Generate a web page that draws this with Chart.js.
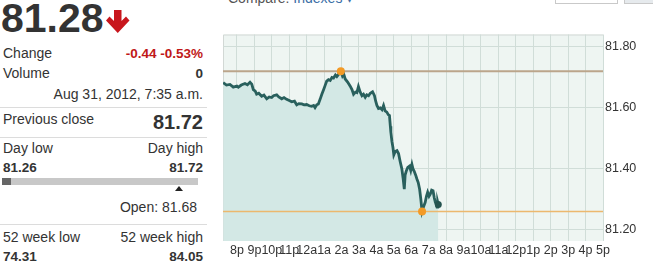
<!DOCTYPE html>
<html>
<head>
<meta charset="utf-8">
<script src="https://cdn.jsdelivr.net/npm/chart.js@4.4.1/dist/chart.umd.min.js"></script>
<style>
    body { margin: 0; width: 653px; height: 266px; overflow: hidden; background: #fff; position: relative;
           font-family: "Liberation Sans", Arial, sans-serif; color: #333; }
    .t { position: absolute; font-size: 14px; line-height: 14px; white-space: nowrap; }
    .l { left: 3px; }
    .r { right: 450px; text-align: right; }
    .b { font-weight: bold; font-size: 13.5px; }
    .sep { position: absolute; left: 0; width: 207px; height: 1px; background: #dcdcdc; }
    #chart-box { position: absolute; left: 215px; top: 25px; width: 438px; height: 241px; }
</style>
</head>
<body>
<div class="t" style="left:228px; top:-9px; color:#555;">Compare: <span style="color:#3a6ea5;">Indexes ▾</span></div>
<div style="position:absolute; left:555px; top:-20px; width:61px; height:22px; border:1px solid #c9c9c9; background:#fff;"></div>
<div style="position:absolute; left:624px; top:-20px; width:40px; height:22px; border:1px solid #c9c9c9; background:#e6eaed;"></div>

<div class="t" style="left:1px; top:-2px; font-size:41px; line-height:41px; font-weight:bold; color:#333;">81.28</div>
<svg style="position:absolute; left:106px; top:10px;" width="24" height="24" viewBox="0 0 24 24">
    <polygon points="8,0 15.5,0 15.5,11 20,6.5 23.5,10.5 11.75,23 0,10.5 3.5,6.5 8,11" fill="#c8161d"/>
</svg>

<div class="t l" style="top:46px;">Change</div>
<div class="t r b" style="top:46.5px; color:#c01818;">-0.44 -0.53%</div>
<div class="t l" style="top:66px;">Volume</div>
<div class="t r b" style="top:66.5px;">0</div>
<div class="t r" style="top:87px;">Aug 31, 2012, 7:35 a.m.</div>
<div class="sep" style="top:107px;"></div>

<div class="t l" style="top:112px;">Previous close</div>
<div class="t r" style="top:112px; font-size:20px; line-height:20px; font-weight:bold;">81.72</div>
<div class="sep" style="top:137px;"></div>

<div class="t l" style="top:141px;">Day low</div>
<div class="t r" style="top:141px;">Day high</div>
<div class="t l b" style="top:161px;">81.26</div>
<div class="t r b" style="top:161px;">81.72</div>
<div style="position:absolute; left:2px; top:178px; width:196px; height:7px; background:#c8c8c8;"></div>
<div style="position:absolute; left:2px; top:178px; width:9px; height:7px; background:#666;"></div>
<div style="position:absolute; left:175px; top:186px; width:0; height:0; border-left:4px solid transparent; border-right:4px solid transparent; border-bottom:5px solid #222;"></div>
<div class="t" style="right:456px; text-align:right; top:200px;">Open: 81.68</div>
<div class="sep" style="top:224px;"></div>

<div class="t l" style="top:230px;">52 week low</div>
<div class="t r" style="top:230px;">52 week high</div>
<div class="t l b" style="top:249.5px;">74.31</div>
<div class="t r b" style="top:249.5px;">84.05</div>

<div id="chart-box"><canvas id="chart" width="438" height="241"></canvas></div>

<script>
// hours after 8 p.m.
const hours = [
    -0.79, -0.60, -0.40, -0.21, 0.00, 0.08, 0.25, 0.46, 0.60, 0.75, 0.85, 0.94, 1.05, 1.13, 1.25,
    1.42, 1.55, 1.71, 1.85, 1.99, 2.10, 2.28, 2.40, 2.57, 2.70, 2.85, 3.00, 3.14, 3.30, 3.43,
    3.55, 3.72, 3.85, 4.00, 4.15, 4.29, 4.40, 4.48, 4.58, 4.67, 4.77, 4.87, 4.97, 5.06, 5.15,
    5.25, 5.35, 5.45, 5.54, 5.65, 5.73, 5.85, 5.96, 6.05, 6.12, 6.21, 6.35, 6.49, 6.60, 6.69,
    6.80, 6.88, 6.97, 7.07, 7.17, 7.26, 7.36, 7.45, 7.55, 7.65, 7.78, 7.89, 7.96, 8.03, 8.12,
    8.22, 8.32, 8.41, 8.50, 8.60, 8.68, 8.75, 8.80, 8.83, 8.89, 8.95, 9.00, 9.08, 9.18, 9.27,
    9.36, 9.46, 9.53, 9.60, 9.65, 9.71, 9.80, 9.90, 9.97, 10.04, 10.10, 10.17, 10.25, 10.33, 10.40,
    10.48, 10.55, 10.62, 10.70, 10.80, 10.87, 10.94, 11.02, 11.09, 11.17, 11.25, 11.32, 11.38, 11.45, 11.48,
    11.52, 11.55
];
const prices = [
    81.683, 81.675, 81.677, 81.668, 81.672, 81.668, 81.675, 81.680, 81.676, 81.684, 81.678, 81.660, 81.655, 81.645, 81.648,
    81.638, 81.642, 81.630, 81.636, 81.634, 81.640, 81.643, 81.636, 81.630, 81.634, 81.628, 81.624, 81.620, 81.622, 81.610,
    81.614, 81.613, 81.610, 81.611, 81.607, 81.605, 81.608, 81.601, 81.610, 81.613, 81.628, 81.645, 81.660, 81.674, 81.688,
    81.693, 81.690, 81.700, 81.698, 81.708, 81.703, 81.712, 81.720, 81.705, 81.712, 81.695, 81.685, 81.672, 81.660, 81.645,
    81.652, 81.650, 81.670, 81.652, 81.640, 81.645, 81.635, 81.643, 81.640, 81.648, 81.653, 81.640, 81.622, 81.608, 81.598,
    81.600, 81.594, 81.608, 81.590, 81.586, 81.578, 81.575, 81.540, 81.520, 81.490, 81.470, 81.446, 81.457, 81.460, 81.450,
    81.425, 81.400, 81.370, 81.333, 81.380, 81.392, 81.405, 81.409, 81.395, 81.414, 81.400, 81.392, 81.380, 81.366, 81.355,
    81.333, 81.300, 81.260, 81.275, 81.290, 81.310, 81.323, 81.310, 81.317, 81.330, 81.328, 81.305, 81.290, 81.282, 81.274,
    81.290, 81.283
];
const hourLabels = ['8p', '9p', '10p', '11p', '12a', '1a', '2a', '3a', '4a', '5a', '6a', '7a',
                    '8a', '9a', '10a', '11a', '12p', '1p', '2p', '3p', '4p', '5p'];
const priceTicks = [81.20, 81.40, 81.60, 81.80];
const prevClose = 81.72;
const dayLow = 81.26;

const X_MIN = -0.8, X_MAX = 21;
const Y_MIN = 81.163, Y_MAX = 81.841;
const FONT = '"Liberation Sans", Arial, sans-serif';

const priceData = hours.map((h, i) => ({ x: h, y: prices[i] }));
const hiIdx = prices.indexOf(Math.max(...prices));
const loIdx = prices.indexOf(Math.min(...prices));
const lastIdx = prices.length - 1;

const chartBg = {
    id: 'chartBg',
    beforeDraw(chart) {
        const { ctx, chartArea: a } = chart;
        ctx.save();
        ctx.fillStyle = '#eef5f2';
        ctx.fillRect(a.left, a.top, a.right - a.left, a.bottom - a.top);
        ctx.strokeStyle = '#d2d8d5';
        ctx.lineWidth = 1;
        ctx.beginPath();
        ctx.moveTo(a.left + 0.5, a.bottom);
        ctx.lineTo(a.left + 0.5, a.top + 0.5);
        ctx.lineTo(a.right, a.top + 0.5);
        ctx.stroke();
        ctx.restore();
    }
};

new Chart(document.getElementById('chart'), {
    type: 'line',
    data: {
        datasets: [
            {   // day high / low dots
                data: [priceData[hiIdx], priceData[loIdx]],
                showLine: false, pointRadius: 4, pointBorderWidth: 0,
                pointBackgroundColor: '#f39a26'
            },
            {   // last trade
                data: [priceData[lastIdx]],
                showLine: false, pointRadius: 3.5, pointBorderWidth: 0,
                pointBackgroundColor: '#24534f'
            },
            {
                data: priceData,
                borderColor: '#29605d', borderWidth: 2.8, pointRadius: 0,
                tension: 0, fill: 'start', backgroundColor: '#d3e8e5'
            },
            {   // previous close
                data: [{ x: X_MIN, y: prevClose }, { x: X_MAX, y: prevClose }],
                borderColor: '#bba58b', borderWidth: 2, pointRadius: 0, fill: false
            },
            {   // day low
                data: [{ x: X_MIN, y: dayLow }, { x: X_MAX, y: dayLow }],
                borderColor: '#ecb86e', borderWidth: 1.5, pointRadius: 0, fill: false
            }
        ]
    },
    options: {
        responsive: false,
        animation: false,
        events: [],
        layout: { padding: { left: 8, top: 6, right: 0, bottom: 0 } },
        plugins: {
            legend: { display: false },
            tooltip: { enabled: false },
            filler: { drawTime: 'beforeDatasetsDraw' }
        },
        scales: {
            x: {
                type: 'linear', min: X_MIN, max: X_MAX,
                afterBuildTicks: axis => { axis.ticks = hourLabels.map((_, i) => ({ value: i })); },
                afterFit: axis => { axis.height = 25; },
                ticks: {
                    autoSkip: false, maxRotation: 0, padding: 2, color: '#333',
                    font: { family: FONT, size: 12.5 },
                    callback: v => hourLabels[v]
                },
                grid: { color: '#d0ddd8', drawTicks: false },
                border: { display: false }
            },
            y: {
                position: 'right', min: Y_MIN, max: Y_MAX,
                afterBuildTicks: axis => { axis.ticks = priceTicks.map(v => ({ value: v })); },
                afterFit: axis => { axis.width = 50; },
                ticks: {
                    padding: 2, color: '#333',
                    font: { family: FONT, size: 12.5 },
                    callback: v => v.toFixed(2)
                },
                grid: { color: '#d0ddd8', drawTicks: false },
                border: { display: false }
            }
        }
    },
    plugins: [chartBg]
});
</script>
</body>
</html>
